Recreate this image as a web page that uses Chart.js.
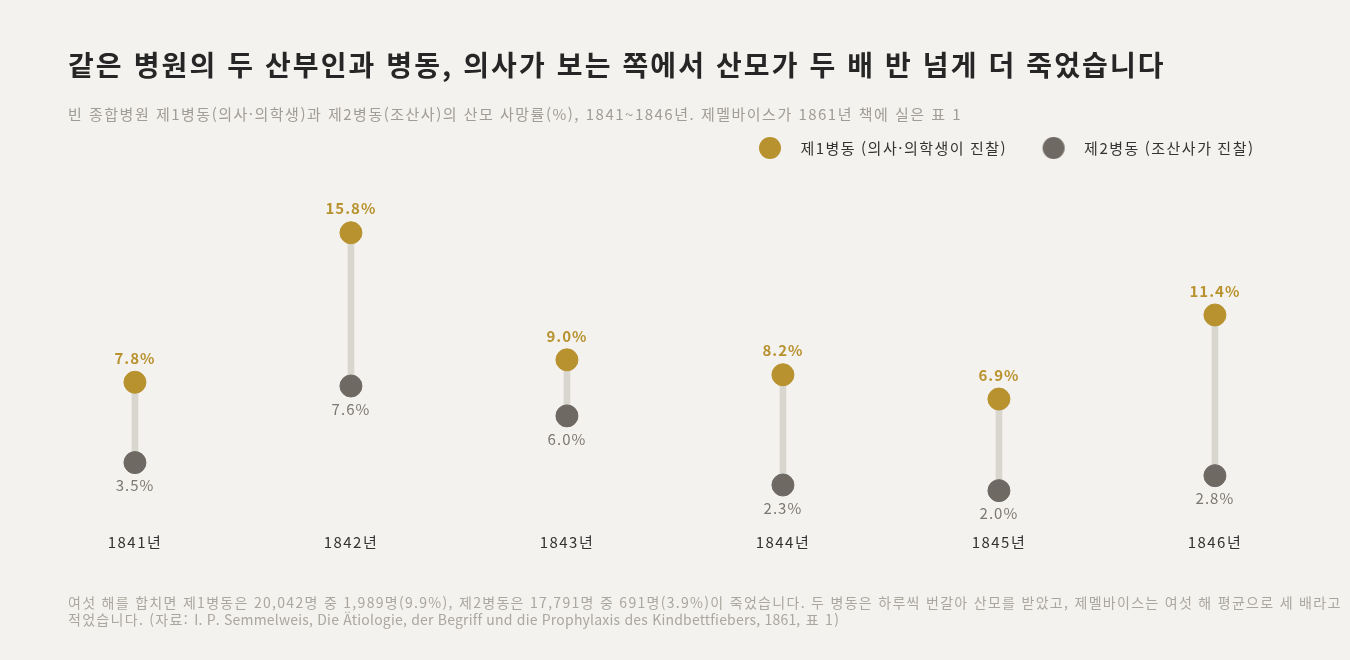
<!DOCTYPE html>
<html lang="ko">
<head>
<meta charset="utf-8">
<script src="https://cdn.jsdelivr.net/npm/chart.js@4.4.1/dist/chart.umd.min.js"></script>
<style>
    html, body { margin: 0; padding: 0; background: #f4f2ee; }
    body { width: 1350px; height: 660px; position: relative; overflow: hidden;
           font-family: "Noto Sans CJK KR", "Noto Sans", sans-serif; }
    #title { position: absolute; left: 68px; top: 44px; font-size: 28px; font-weight: 700; color: #262626; white-space: nowrap; letter-spacing: 2.1px; }
    #subtitle { position: absolute; left: 68px; top: 103px; font-size: 15px; color: #a09c97; white-space: nowrap; letter-spacing: 1.5px; }
    #note { position: absolute; left: 68px; top: 594px; width: 1285px; font-size: 14px; line-height: 17px; color: #aaa6a0; letter-spacing: 1.3px; }
    #note .lat { letter-spacing: 0.2px; }
    #wrap { position: absolute; left: 0; top: 0; width: 1350px; height: 660px; }
</style>
</head>
<body>
<div id="wrap"><canvas id="myChart"></canvas></div>
<div id="title">같은 병원의 두 산부인과 병동, 의사가 보는 쪽에서 산모가 두 배 반 넘게 더 죽었습니다</div>
<div id="subtitle">빈 종합병원 제1병동(의사·의학생)과 제2병동(조산사)의 산모 사망률(%), 1841~1846년. 제멜바이스가 1861년 책에 실은 표 1</div>
<div id="note">여섯 해를 합치면 제1병동은 20,042명 중 1,989명(9.9%), 제2병동은 17,791명 중 691명(3.9%)이 죽었습니다. 두 병동은 하루씩 번갈아 산모를 받았고, 제멜바이스는 여섯 해 평균으로 세 배라고 적었습니다. (자료: <span class="lat">I. P. Semmelweis, Die Ätiologie, der Begriff und die Prophylaxis des Kindbettfiebers, 1861,</span> 표 1)</div>
<script>
document.addEventListener('DOMContentLoaded', function () {

    ///////////////////////////////////////////////////////////////////////////
    //////////////////////////  DATOS  ////////////////////////////////////////
    ///////////////////////////////////////////////////////////////////////////

    const years = ['1841', '1842', '1843', '1844', '1845', '1846'];
    const ward1 = [7.8, 15.8, 9.0, 8.2, 6.9, 11.4];   // 제1병동 (의사·의학생)
    const ward2 = [3.5, 7.6, 6.0, 2.3, 2.0, 2.8];     // 제2병동 (조산사)
    const ward1Label = '제1병동 (의사·의학생이 진찰)';
    const ward2Label = '제2병동 (조산사가 진찰)';

    const gold = '#b8922f';
    const grey = '#6f6964';
    const fontFamily = '"Noto Sans CJK KR", "Noto Sans", sans-serif';

    // círculo de la leyenda como imagen (para separar más el texto)
    function legendDot(color) {
        const c = document.createElement('canvas');
        c.width = 24;
        c.height = 24;
        const g = c.getContext('2d');
        g.fillStyle = color;
        g.beginPath();
        g.arc(12, 12, 11, 0, Math.PI * 2);
        g.fill();
        return c;
    }

    // espaciado de letras en el canvas (la fuente original es más ancha)
    const spacing = {
        id: 'spacing',
        beforeLayout(chart) { chart.ctx.letterSpacing = '1.5px'; },
        beforeDraw(chart) { chart.ctx.letterSpacing = '1.5px'; },
    };

    // etiquetas de valor encima / debajo de cada punto
    const valueLabels = {
        id: 'valueLabels',
        afterDatasetsDraw(chart) {
            const ctx = chart.ctx;
            ctx.save();
            ctx.letterSpacing = '1px';
            ctx.textAlign = 'center';
            ctx.textBaseline = 'middle';
            chart.data.datasets.forEach(function (ds, di) {
                if (!ds.valueSide) return;
                const meta = chart.getDatasetMeta(di);
                meta.data.forEach(function (pt, i) {
                    const v = ds.data[i].y;
                    if (ds.valueSide === 'top') {
                        ctx.font = 'bold 15px ' + fontFamily;
                        ctx.fillStyle = gold;
                        ctx.fillText(v.toFixed(1) + '%', pt.x, pt.y - 24);
                    } else {
                        ctx.font = '15px ' + fontFamily;
                        ctx.fillStyle = '#7d7873';
                        ctx.fillText(v.toFixed(1) + '%', pt.x, pt.y + 23);
                    }
                });
            });
            ctx.restore();
        }
    };

    const chartCanvas = document.getElementById('myChart');

    const chartConfig = {
        type: 'scatter',
        data: {
            datasets: [
                {
                    type: 'bar',
                    label: 'range',
                    data: years.map((y, i) => ({ x: i, y: [ward2[i], ward1[i]] })),
                    backgroundColor: '#d9d6d0',
                    barThickness: 6,
                    borderSkipped: false,
                    order: 3,
                },
                {
                    label: ward1Label,
                    data: years.map((y, i) => ({ x: i, y: ward1[i] })),
                    backgroundColor: gold,
                    borderColor: gold,
                    pointRadius: 11,
                    pointHoverRadius: 11,
                    valueSide: 'top',
                    dot: legendDot(gold),
                    order: 1,
                },
                {
                    label: ward2Label,
                    data: years.map((y, i) => ({ x: i, y: ward2[i] })),
                    backgroundColor: grey,
                    borderColor: grey,
                    pointRadius: 11,
                    pointHoverRadius: 11,
                    valueSide: 'bottom',
                    dot: legendDot(grey),
                    order: 2,
                },
            ],
        },
        options: {
            responsive: true,
            maintainAspectRatio: false,
            animation: false,
            layout: { padding: { top: 117, left: 60, right: 72, bottom: 104 } },
            plugins: {
                tooltip: { enabled: false },
                legend: {
                    position: 'top',
                    align: 'end',
                    labels: {
                        filter: (item) => item.text !== 'range',
                        generateLabels: function (chart) {
                            const items = Chart.defaults.plugins.legend.labels.generateLabels(chart);
                            items.forEach(function (it) {
                                const ds = chart.data.datasets[it.datasetIndex];
                                if (ds.dot) it.pointStyle = ds.dot;
                            });
                            return items;
                        },
                        usePointStyle: true,
                        pointStyleWidth: 46,
                        boxHeight: 15,
                        padding: 23.5,
                        color: '#333',
                        font: { family: fontFamily, size: 15 },
                    },
                },
            },
            scales: {
                x: {
                    type: 'linear',
                    offset: false,
                    min: -0.347,
                    max: 5.292,
                    grid: { display: false, drawTicks: false },
                    border: { display: false },
                    ticks: {
                        stepSize: 1,
                        includeBounds: false,
                        padding: 5,
                        color: '#333',
                        font: { family: fontFamily, size: 15 },
                        callback: (v) => Number.isInteger(v) && years[v] ? years[v] + '년' : '',
                    },
                },
                y: {
                    display: false,
                    min: 0,
                    max: 19.4,
                },
            },
        },
        plugins: [spacing, valueLabels],
    };

    const myChart = new Chart(chartCanvas, chartConfig);
});
</script>
</body>
</html>
